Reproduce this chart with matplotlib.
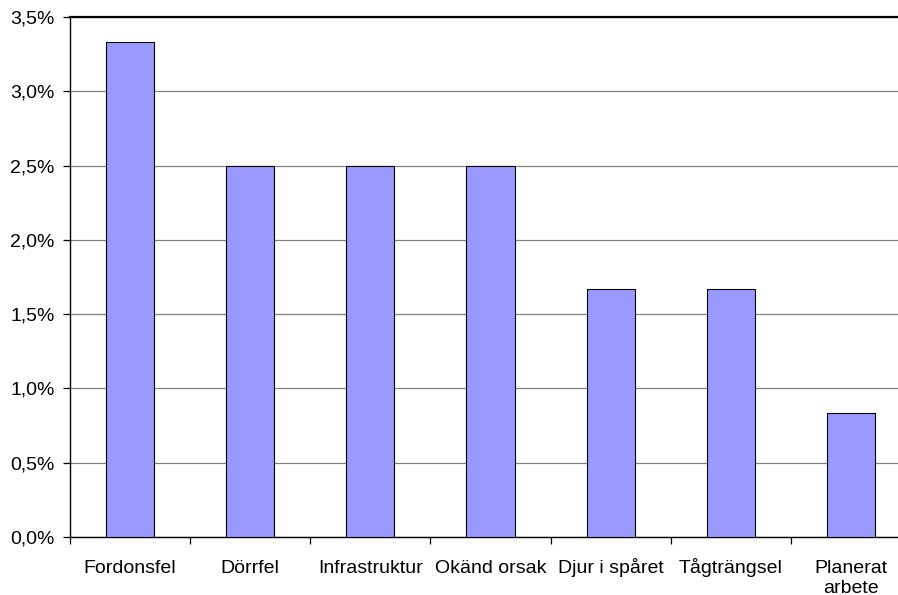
import matplotlib
matplotlib.use("Agg")
import matplotlib.pyplot as plt
from matplotlib.ticker import FuncFormatter, MultipleLocator

plt.rcParams['font.family'] = ['Liberation Sans', 'DejaVu Sans']

categories = ['Fordonsfel', 'Dörrfel', 'Infrastruktur', 'Okänd orsak',
              'Djur i spåret', 'Tågträngsel', 'Planerat\narbete']
shares = [3.333, 2.5, 2.5, 2.5, 1.667, 1.667, 0.833]  # procent

fig = plt.figure(figsize=(8.98, 5.95), dpi=100)
# plot area runs a little past the right edge, like the exported sheet
ax = fig.add_axes([70 / 898, 58 / 595, 841 / 898, 520 / 595])

x = range(len(categories))
ax.bar(x, shares, width=0.4, color='#9999FF', edgecolor='black',
       linewidth=0.8, zorder=3)

ax.set_xlim(-0.5, len(categories) - 0.5)
ax.set_ylim(0, 3.5)
ax.yaxis.set_major_locator(MultipleLocator(0.5))
ax.yaxis.set_major_formatter(FuncFormatter(lambda v, _: f'{v:.1f}%'.replace('.', ',')))
ax.grid(axis='y', color='#808080', linewidth=0.9, zorder=0)

# category ticks sit between the bars
ax.set_xticks([i - 0.5 for i in x])
ax.set_xticklabels([])
ax.tick_params(axis='x', which='major', length=5, width=0.9, color='black')
ax.tick_params(axis='y', length=5, width=0.9, pad=6, labelsize=14)

# category names: first line baseline at a fixed distance under the axis
line_pt = 14.0
for i, name in enumerate(categories):
    extra = name.count('\n')
    ax.annotate(name, xy=(i, 0), xycoords=('data', 'axes fraction'),
                xytext=(0, -26 - extra * line_pt), textcoords='offset points',
                ha='center', va='baseline', fontsize=14, linespacing=1.22,
                annotation_clip=False)

for side in ['left', 'bottom']:
    ax.spines[side].set_linewidth(1.0)
    ax.spines[side].set_color('black')
ax.spines['top'].set_linewidth(1.6)
ax.spines['right'].set_visible(False)

fig.savefig('out.png', dpi=100)
